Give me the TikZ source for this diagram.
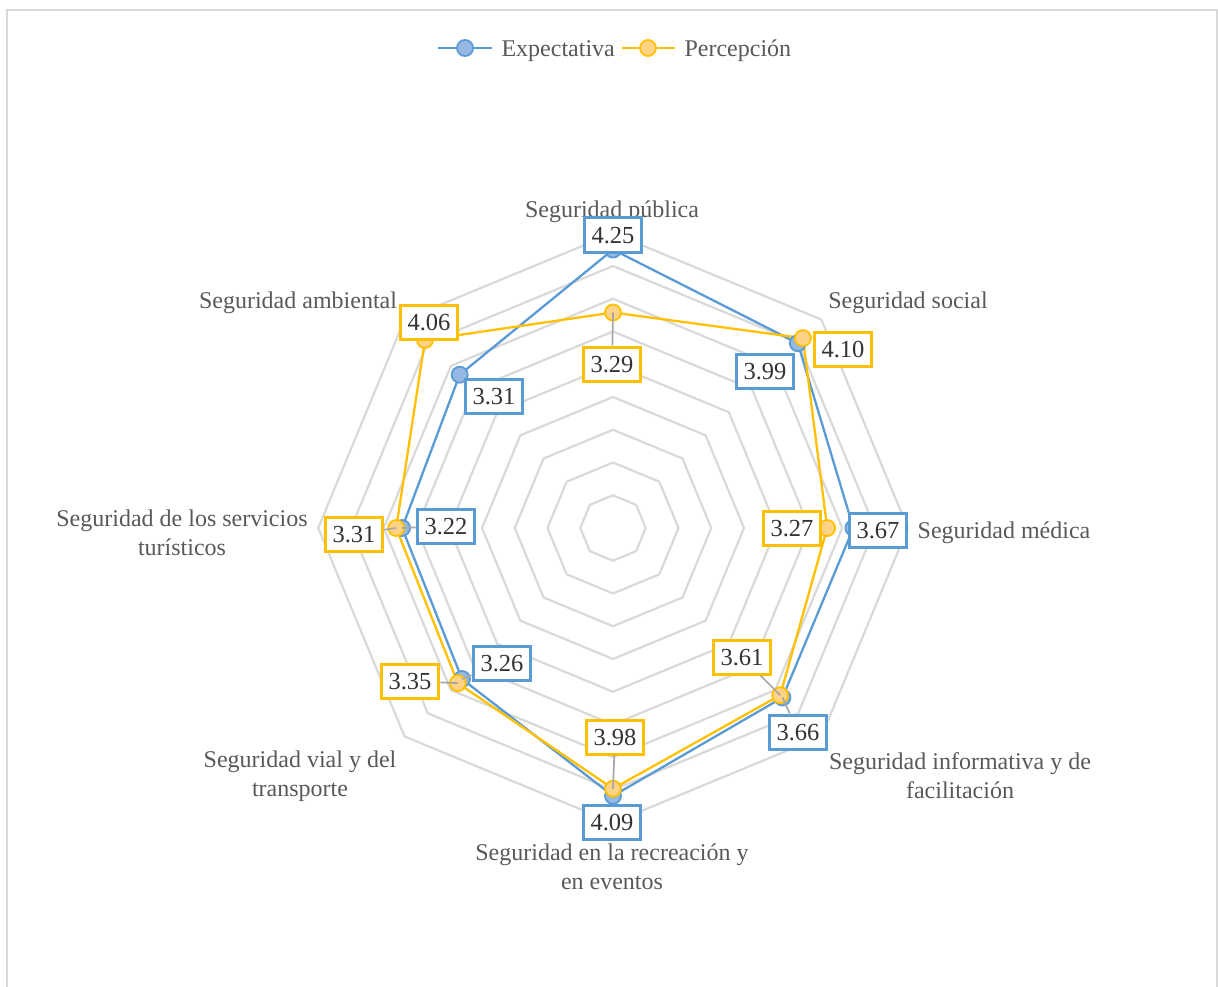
\documentclass[tikz,border=0pt]{standalone}
\usepackage{fontspec}
\setmainfont{Liberation Serif}
\usetikzlibrary{positioning}

\definecolor{expblue}{HTML}{5B9BD5}
\definecolor{expfill}{HTML}{95B9E3}
\definecolor{peryellow}{HTML}{FFC000}
\definecolor{perfill}{HTML}{FFD385}
\definecolor{gridgray}{HTML}{D9D9D9}
\definecolor{labelgray}{HTML}{595959}
\definecolor{leadgray}{HTML}{A6A6A6}

\tikzset{
  ring/.style={draw=gridgray, line width=2.2pt},
  serie/.style={line width=2.3pt, line join=round},
  dot/.style={circle, inner sep=0pt, minimum size=16pt, line width=1.8pt},
  valbox/.style={draw, fill=white, line width=3pt, text=black!80,
    font=\fontsize{24.5}{28}\selectfont, inner xsep=7.5pt, inner ysep=8.5pt,
    text height=17pt, text depth=0pt},
  axlabel/.style={text=labelgray, font=\fontsize{24}{29}\selectfont, align=center},
  leader/.style={draw=leadgray, line width=1.7pt},
}

\begin{document}
\begin{tikzpicture}[x=1pt, y=-1pt]
  \useasboundingbox (0,0) rectangle (1218,987);
  \draw[gridgray, line width=1.5pt] (7,10) rectangle (1217,1010);

  % grid and data
  \begin{scope}[shift={(613,528)}]
    \foreach \k in {1,...,9}
      \draw[ring] (-90:\k*32.75) \foreach \a in {-45,0,...,225} {-- (\a:\k*32.75)} -- cycle;
    \foreach \v [count=\i from 0] in {4.25,3.99,3.67,3.66,4.09,3.26,3.22,3.31}
      \coordinate (e\i) at (-90+45*\i:\v*65.5);
    \foreach \v [count=\i from 0] in {3.29,4.10,3.27,3.61,3.98,3.35,3.31,4.06}
      \coordinate (p\i) at (-90+45*\i:\v*65.5);
  \end{scope}

  % axis labels
  \node[axlabel, anchor=base] (lpub) at (612,218) {Seguridad pública};
  \node[axlabel, anchor=base] (lsoc) at (908,308) {Seguridad social};
  \node[axlabel, anchor=base] (lmed) at (1004,538) {Seguridad médica};
  \node[axlabel] (linf) at (960,776) {Seguridad informativa y de\\facilitación};
  \node[axlabel] (lrec) at (612,867) {Seguridad en la recreación y\\en eventos};
  \node[axlabel] (lvia) at (300,776) {Seguridad vial y del\\transporte};
  \node[axlabel] (ltur) at (182,533) {Seguridad de los servicios\\turísticos};
  \node[axlabel, anchor=base] (lamb) at (298,308) {Seguridad ambiental};

  \draw[serie, expblue] (e0) -- (e1) -- (e2) -- (e3) -- (e4) -- (e5) -- (e6) -- (e7) -- cycle;
  \draw[serie, peryellow] (p0) -- (p1) -- (p2) -- (p3) -- (p4) -- (p5) -- (p6) -- (p7) -- cycle;
  \foreach \i in {0,...,7}
    \node[dot, draw=expblue, fill=expfill] (me\i) at (e\i) {};
  \foreach \i in {0,...,7}
    \node[dot, draw=peryellow, fill=perfill] (mp\i) at (p\i) {};

  % value labels
  \node[valbox, draw=expblue] (ve0) at (613,235) {4.25};
  \node[valbox, draw=peryellow] (vp0) at (612,364) {3.29};
  \node[valbox, draw=expblue] (ve1) at (765,371) {3.99};
  \node[valbox, draw=peryellow] (vp1) at (843,349) {4.10};
  \node[valbox, draw=expblue] (ve2) at (878,530) {3.67};
  \node[valbox, draw=peryellow] (vp2) at (792,528) {3.27};
  \node[valbox, draw=peryellow] (vp3) at (742,657) {3.61};
  \node[valbox, draw=expblue] (ve3) at (798,732) {3.66};
  \node[valbox, draw=peryellow] (vp4) at (615,737) {3.98};
  \node[valbox, draw=expblue] (ve4) at (612,822) {4.09};
  \node[valbox, draw=expblue] (ve5) at (502,663) {3.26};
  \node[valbox, draw=peryellow] (vp5) at (410,681) {3.35};
  \node[valbox, draw=expblue] (ve6) at (446,526) {3.22};
  \node[valbox, draw=peryellow] (vp6) at (354,534) {3.31};
  \node[valbox, draw=expblue] (ve7) at (494,396) {3.31};
  \node[valbox, draw=peryellow] (vp7) at (429,322) {4.06};

  % leader lines
  \foreach \a/\b in {mp0/vp0, mp3/vp3, me3/ve3, mp4/vp4, me6/ve6, mp6/vp6, mp5/vp5, me5/ve5}
    \draw[leader] (\a.center) -- (\b);

  % legend
  \coordinate (lgea) at (438,48);
  \coordinate (lgeb) at (492,48);
  \draw[serie, expblue] (lgea) -- (lgeb);
  \node[dot, draw=expblue, fill=expfill] (lge) at (465,48) {};
  \node[axlabel, anchor=base west] (lget) at (498,57) {Expectativa};
  \coordinate (lgpa) at (622,48);
  \coordinate (lgpb) at (675,48);
  \draw[serie, peryellow] (lgpa) -- (lgpb);
  \node[dot, draw=peryellow, fill=perfill] (lgp) at (648,48) {};
  \node[axlabel, anchor=base west] (lgpt) at (681,57) {Percepción};
\end{tikzpicture}
\end{document}
